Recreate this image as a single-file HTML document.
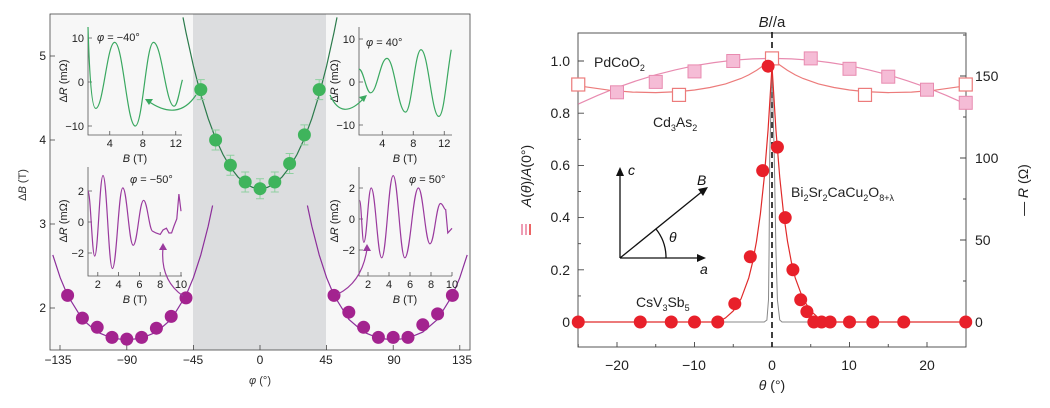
<!DOCTYPE html>
<html><head><meta charset="utf-8"><style>
html,body{margin:0;padding:0;background:#fff;}
svg{display:block;font-family:"Liberation Sans",sans-serif;}
</style></head><body>
<svg width="1050" height="408" viewBox="0 0 1050 408" xmlns="http://www.w3.org/2000/svg">
<rect x="50" y="14" width="420" height="336" fill="#f7f7f7"/>
<rect x="193" y="14" width="133" height="336" fill="#dcdddf"/>
<rect x="50" y="14" width="420" height="336" fill="none" stroke="#444" stroke-width="0.8"/>
<g stroke="#444" stroke-width="0.8">
<line x1="60" y1="350" x2="60" y2="345"/><line x1="126.8" y1="350" x2="126.8" y2="345"/><line x1="193.4" y1="350" x2="193.4" y2="345"/><line x1="260" y1="350" x2="260" y2="345"/><line x1="326.6" y1="350" x2="326.6" y2="345"/><line x1="393.2" y1="350" x2="393.2" y2="345"/><line x1="459.8" y1="350" x2="459.8" y2="345"/>
<line x1="50" y1="56" x2="55" y2="56"/><line x1="50" y1="140" x2="55" y2="140"/><line x1="50" y1="224" x2="55" y2="224"/><line x1="50" y1="308" x2="55" y2="308"/>
</g>
<g font-size="12" fill="#222" text-anchor="middle">
<text x="58" y="364">−135</text><text x="127" y="364">−90</text><text x="193" y="364">−45</text>
<text x="260" y="364">0</text><text x="326" y="364">45</text><text x="394" y="364">90</text><text x="462" y="364">135</text>
</g>
<g font-size="12" fill="#222" text-anchor="end">
<text x="46" y="60">5</text><text x="46" y="144">4</text><text x="46" y="228">3</text><text x="46" y="312">2</text>
</g>
<text x="260" y="384" font-size="11" text-anchor="middle" fill="#333"><tspan font-style="italic">φ</tspan> (°)</text>
<text transform="translate(26,185) rotate(-90)" font-size="11" text-anchor="middle" fill="#333">Δ<tspan font-style="italic">B</tspan> (T)</text>

<!-- green curve -->
<polyline fill="none" stroke="#2b7a4b" stroke-width="1.2" points="183,17.4 186,32.5 193.4,66 200.8,94.6 208.2,118.6 215.6,138.5 223,154.5 230.4,167.2 237.8,176.8 245.2,183.5 252.6,187.4 260,188.7 267.4,187.4 274.8,183.5 282.2,176.8 289.6,167.2 297,154.5 304.4,138.5 311.8,118.6 319.2,94.6 326.6,66 334,32.5 337,17.4"/>
<!-- purple curves -->
<polyline fill="none" stroke="#8c2e9a" stroke-width="1.2" points="52.8,254.9 60.2,277.7 67.6,295.4 82.4,319.3 97.2,332.1 112,338.2 126.8,339.9 141.6,338.2 156.4,332.1 171.2,319.3 186,295.4 193.4,277.7 200.8,254.9 208.2,226.1 212.6,205.5"/>
<polyline fill="none" stroke="#8c2e9a" stroke-width="1.2" points="307.4,205.5 311.8,226.1 319.2,254.9 326.6,277.7 334,295.4 348.8,319.3 363.6,332.1 378.4,338.2 393.2,339.9 408,338.2 422.8,332.1 437.6,319.3 452.4,295.4 459.8,277.7 467.2,254.9"/>

<!-- green points -->
<g stroke="#8fd0a0" stroke-width="1">
<path d="M200.8 79.6V99.6M215.6 130V150M230.4 155.2V175.2M245.2 172V192M260 178.7V198.7M274.8 172V192M289.6 153.5V173.5M304.4 124.9V144.9M319.2 79.6V99.6"/>
<path d="M196.8 79.6h8M196.8 99.6h8M211.6 130h8M211.6 150h8M226.4 155.2h8M226.4 175.2h8M241.2 172h8M241.2 192h8M256 178.7h8M256 198.7h8M270.8 172h8M270.8 192h8M285.6 153.5h8M285.6 173.5h8M300.4 124.9h8M300.4 144.9h8M315.2 79.6h8M315.2 99.6h8"/>
</g>
<g fill="#3fb45c">
<circle cx="200.8" cy="89.6" r="6.5"/><circle cx="215.6" cy="140" r="6.5"/><circle cx="230.4" cy="165.2" r="6.5"/><circle cx="245.2" cy="182" r="6.5"/><circle cx="260" cy="188.7" r="6.5"/><circle cx="274.8" cy="182" r="6.5"/><circle cx="289.6" cy="163.5" r="6.5"/><circle cx="304.4" cy="134.9" r="6.5"/><circle cx="319.2" cy="89.6" r="6.5"/>
</g>
<!-- purple points -->
<g fill="#a3238f">
<circle cx="67.6" cy="295.4" r="6.5"/><circle cx="82.4" cy="318.1" r="6.5"/><circle cx="97.2" cy="327.3" r="6.5"/><circle cx="112" cy="337.4" r="6.5"/><circle cx="126.8" cy="339.1" r="6.5"/><circle cx="141.6" cy="337.4" r="6.5"/><circle cx="156.4" cy="328.2" r="6.5"/><circle cx="171.2" cy="316.4" r="6.5"/><circle cx="186" cy="297.9" r="6.5"/>
<circle cx="334" cy="295.4" r="6.5"/><circle cx="348.8" cy="312.2" r="6.5"/><circle cx="363.6" cy="327.3" r="6.5"/><circle cx="378.4" cy="337.4" r="6.5"/><circle cx="393.2" cy="337.4" r="6.5"/><circle cx="408" cy="337.4" r="6.5"/><circle cx="422.8" cy="324.8" r="6.5"/><circle cx="437.6" cy="313.9" r="6.5"/><circle cx="452.4" cy="295.4" r="6.5"/>
</g>

<!-- insets axes -->
<g stroke="#555" stroke-width="0.8" fill="none">
<path d="M88 27V135H182"/><path d="M359 27V135H452"/><path d="M88 167V276H182"/><path d="M359 167V276H452"/>
<path d="M109.75 135v-4M142.75 135v-4M175.75 135v-4M88 38h4M88 82h4M88 126h4"/>
<path d="M382.25 135v-4M413.25 135v-4M444.25 135v-4M359 39h4M359 82h4M359 125h4"/>
<path d="M97.8 276v-4M118.6 276v-4M139.4 276v-4M160.2 276v-4M181 276v-4M88 191h4M88 222h4M88 253h4"/>
<path d="M368 276v-4M389 276v-4M410 276v-4M431 276v-4M452 276v-4M359 188h4M359 219h4M359 250h4"/>
</g>
<g font-size="11" fill="#222" text-anchor="middle">
<text x="109.75" y="147">4</text><text x="142.75" y="147">8</text><text x="175.75" y="147">12</text>
<text x="382.25" y="147">4</text><text x="413.25" y="147">8</text><text x="444.25" y="147">12</text>
<text x="97.8" y="288">2</text><text x="118.6" y="288">4</text><text x="139.4" y="288">6</text><text x="160.2" y="288">8</text><text x="181" y="288">10</text>
<text x="368" y="288">2</text><text x="389" y="288">4</text><text x="410" y="288">6</text><text x="431" y="288">8</text><text x="452" y="288">10</text>
<text x="135" y="162"><tspan font-style="italic">B</tspan> (T)</text><text x="405" y="162"><tspan font-style="italic">B</tspan> (T)</text>
<text x="135" y="303"><tspan font-style="italic">B</tspan> (T)</text><text x="405" y="303"><tspan font-style="italic">B</tspan> (T)</text>
<text transform="translate(67,81) rotate(-90)">Δ<tspan font-style="italic">R</tspan> (mΩ)</text>
<text transform="translate(338,81) rotate(-90)">Δ<tspan font-style="italic">R</tspan> (mΩ)</text>
<text transform="translate(67,221) rotate(-90)">Δ<tspan font-style="italic">R</tspan> (mΩ)</text>
<text transform="translate(338,221) rotate(-90)">Δ<tspan font-style="italic">R</tspan> (mΩ)</text>
</g>
<g font-size="11" fill="#222" text-anchor="end">
<text x="84" y="42">10</text><text x="84" y="86">0</text><text x="84" y="130">−10</text>
<text x="355" y="43">10</text><text x="355" y="86">0</text><text x="355" y="129">−10</text>
<text x="84" y="195">2</text><text x="84" y="226">0</text><text x="84" y="257">−2</text>
<text x="355" y="192">2</text><text x="355" y="223">0</text><text x="355" y="254">−2</text>
</g>
<g font-size="11" fill="#222">
<text x="97" y="41"><tspan font-style="italic">φ</tspan> = −40°</text>
<text x="366" y="46"><tspan font-style="italic">φ</tspan> = 40°</text>
<text x="130" y="183"><tspan font-style="italic">φ</tspan> = −50°</text>
<text x="409" y="183"><tspan font-style="italic">φ</tspan> = 50°</text>
</g>
<!-- inset curves -->
<g fill="none" stroke-width="1.2">
<path stroke="#3aa860" d="M88 27 C89 60 91 108.4 95.7 108.4 C103.3 108.4 107.1 42.4 114.7 42.4 C122.9 42.4 127.1 126 135.3 126 C142.6 126 146.2 42.4 153.5 42.4 C161.7 42.4 165.9 106.2 174.1 106.2 C177.5 106.2 179.5 90 182.4 79.8"/>
<path stroke="#3aa860" d="M359 69.1 C363.6 69.1 366 92.8 370.6 92.8 C377.1 92.8 380.4 58.4 386.9 58.4 C394.3 58.4 398.1 112.1 405.5 112.1 C411.7 112.1 414.8 49.75 421 49.75 C428.1 49.75 431.7 116.4 438.8 116.4 C443.8 116.4 446.2 80 451.2 49.75"/>
<path stroke="#9a3a9e" d="M87.9 191 C90.6 191 92 256.1 94.7 256.1 C98 256.1 99.7 175.5 103 175.5 C106.8 175.5 108.6 268.5 112.4 268.5 C116.6 268.5 118.6 187.9 122.8 187.9 C127 187.9 129 245.3 133.2 245.3 C137.4 245.3 139.4 200.3 143.6 200.3 C147.3 200.3 149.2 231.3 152.9 231.3 L156 233 160.2 234.4 L163 230 166.4 228.2 L169 233 171.6 232.9 L174 226 176.8 218.9 L178.9 194.1 L181 211.2"/>
<path stroke="#9a3a9e" d="M359.6 200.4 C361.3 200.4 362.1 242.3 363.8 242.3 C366.8 242.3 368.2 188 371.2 188 C375.4 188 377.5 257.8 381.7 257.8 C386.3 257.8 388.6 175.6 393.2 175.6 C397.8 175.6 400.2 257.8 404.8 257.8 C410.2 257.8 413 188 418.4 188 C423 188 425.4 243.8 430 243.8 C434.2 243.8 436.3 203.5 440.5 203.5 C443 203.5 444 209.7 445.7 209.7 L447.8 233 L452 228.3"/>
</g>
<!-- arrows -->
<g fill="none" stroke-width="1.2">
<path stroke="#3aa860" d="M196 95 Q178 122 148 101"/>
<path stroke="#3aa860" d="M330 95 Q342 122 364 98"/>
<path stroke="#9a3a9e" d="M183 296 Q160 280 163 248"/>
<path stroke="#9a3a9e" d="M338 294 Q362 282 367 249"/>
</g>
<g>
<polygon fill="#3aa860" points="145,99 153,99 149,105"/>
<polygon fill="#3aa860" points="367,95 359,97 364,102"/>
<polygon fill="#9a3a9e" points="163,243 159,250 167,250"/>
<polygon fill="#9a3a9e" points="367,244 363,251 371,251"/>
</g>

<!-- right panel -->
<rect x="578" y="33" width="388" height="314" fill="none" stroke="#444" stroke-width="0.9"/>
<g stroke="#444" stroke-width="0.9">
<path d="M617 347v-5M694.5 347v-5M772 347v-5M849.5 347v-5M927 347v-5M578.25 347v-3M655.75 347v-3M733.25 347v-3M810.75 347v-3M888.25 347v-3"/>
<path d="M578 322h6M578 295.9h3M578 269.8h6M578 243.7h3M578 217.6h6M578 191.5h3M578 165.4h6M578 139.3h3M578 113.2h6M578 87.1h3M578 61h6"/>
<path d="M966 322h-6M966 281h-3M966 240h-6M966 199h-3M966 158h-6M966 117h-3M966 76h-6M966 35h-3"/>
</g>
<line x1="772" y1="32" x2="772" y2="347" stroke="#111" stroke-width="1.6" stroke-dasharray="6,4"/>
<g font-size="14" fill="#222" text-anchor="middle">
<text x="617" y="370">−20</text><text x="694" y="370">−10</text><text x="772" y="370">0</text><text x="849" y="370">10</text><text x="927" y="370">20</text>
</g>
<g font-size="14" fill="#222" text-anchor="end">
<text x="570" y="327">0</text><text x="570" y="275">0.2</text><text x="570" y="222">0.4</text><text x="570" y="170">0.6</text><text x="570" y="118">0.8</text><text x="570" y="66">1.0</text>
</g>
<g font-size="14" fill="#222">
<text x="975" y="327">0</text><text x="975" y="245">50</text><text x="975" y="163">100</text><text x="975" y="81">150</text>
</g>
<text x="772" y="390" font-size="14" text-anchor="middle" fill="#222"><tspan font-style="italic">θ</tspan> (°)</text>
<text x="772" y="27" font-size="15" text-anchor="middle" fill="#222"><tspan font-style="italic">B</tspan>//a</text>
<text transform="translate(531,176) rotate(-90)" font-size="14" text-anchor="middle" fill="#222"><tspan font-style="italic">A</tspan>(<tspan font-style="italic">θ</tspan>)/<tspan font-style="italic">A</tspan>(0°)</text>
<g stroke-width="1.5"><line x1="522" y1="224" x2="522" y2="235" stroke="#e87a9a"/><line x1="526" y1="224" x2="526" y2="235" stroke="#e87a9a"/><line x1="530" y1="224" x2="530" y2="235" stroke="#e53030"/></g>
<text transform="translate(1028,190) rotate(-90)" font-size="14" text-anchor="middle" fill="#222">— <tspan font-style="italic">R</tspan> (Ω)</text>
<g font-size="14" fill="#222">
<text x="594" y="67">PdCoO<tspan font-size="9" dy="4">2</tspan></text>
<text x="653" y="127">Cd<tspan font-size="9" dy="4">3</tspan><tspan dy="-4">As</tspan><tspan font-size="9" dy="4">2</tspan></text>
<text x="791" y="197">Bi<tspan font-size="9" dy="4">2</tspan><tspan dy="-4">Sr</tspan><tspan font-size="9" dy="4">2</tspan><tspan dy="-4">CaCu</tspan><tspan font-size="9" dy="4">2</tspan><tspan dy="-4">O</tspan><tspan font-size="9" dy="4">8+λ</tspan></text>
<text x="636" y="307">CsV<tspan font-size="9" dy="4">3</tspan><tspan dy="-4">Sb</tspan><tspan font-size="9" dy="4">5</tspan></text>
</g>
<g stroke="#111" stroke-width="1.3" fill="none">
<line x1="620" y1="258" x2="620" y2="172"/><line x1="620" y1="258" x2="701" y2="258"/><line x1="620" y1="258" x2="704" y2="190"/>
<path d="M666 258 A46 46 0 0 0 656 229"/>
</g>
<g fill="#111"><polygon points="620,167 616,176 624,176"/><polygon points="706,258 697,254 697,262"/><polygon points="708,187 698,189 703,196"/></g>
<g font-size="14" font-style="italic" fill="#111"><text x="628" y="175">c</text><text x="697" y="185">B</text><text x="669" y="242">θ</text><text x="700" y="274">a</text></g>

<!-- curves -->
<g fill="none" stroke-width="1.2">
<polyline stroke="#e88bb0" points="578.25,104.1 597.6,95.4 617,87.6 636.4,80.8 655.75,74.8 675.1,69.9 694.5,65.7 713.9,62.6 733.25,60.2 752.6,58.9 772,58.4 791.4,58.9 810.75,60.2 830.1,62.6 849.5,65.7 868.9,69.9 888.25,74.8 907.4,80.8 927,87.6 946.4,95.4 965.75,104.1"/>
<polyline stroke="#ec7b7b" points="578.25,85.8 609.25,90.2 632.5,92.1 655.75,92.6 679,91.6 694.5,90 710,87.5 725.5,83.9 741,78.5 748.75,74.9 756.5,70.4 764.25,65 772,58.4 779.75,65 787.5,70.4 795.25,74.9 803,78.5 818.5,83.9 834,87.5 849.5,90 865,91.6 888.25,92.6 911.5,92.1 934.75,90.2 965.75,85.8"/>
<polyline stroke="#888" stroke-width="1" points="578,322 764.25,322 766.9,320 768.5,299.7 769.1,248.9 769.7,158.1 772,66.2 774.3,158.1 775.9,248.9 777.4,299.7 779.75,320 782,322 966,322"/>
<polyline stroke="#e02a2a" points="578,322 717.75,322 725.5,317.9 733.25,311 741,298.9 748.75,277.9 752.6,262.2 756.5,241.3 760.4,213.8 764.25,177.4 768.1,129.5 772,66.2 775.9,129.5 779.75,177.4 783.6,213.8 787.5,241.3 791.4,262.2 795.25,277.9 803,298.9 810.75,311 818.5,317.9 826.25,322 966,322"/>
</g>
<!-- squares -->
<g fill="#f5bcd6" stroke="#e88bb0">
<rect x="610.5" y="85.8" width="13" height="13"/><rect x="649.25" y="75.4" width="13" height="13"/><rect x="688" y="64.9" width="13" height="13"/><rect x="726.75" y="54.5" width="13" height="13"/><rect x="804.25" y="51.9" width="13" height="13"/><rect x="843" y="62.3" width="13" height="13"/><rect x="881.75" y="70.2" width="13" height="13"/><rect x="920.5" y="83.2" width="13" height="13"/><rect x="959.25" y="96.3" width="13" height="13"/>
</g>
<g fill="#fff" stroke="#ec7b7b" stroke-width="1.2">
<rect x="571.75" y="78" width="13" height="13"/><rect x="672.5" y="88.4" width="13" height="13"/><rect x="765.5" y="51.9" width="13" height="13"/><rect x="858.5" y="88.4" width="13" height="13"/><rect x="959.25" y="78" width="13" height="13"/>
</g>
<g fill="#e8202a">
<circle cx="578.25" cy="322" r="6.5"/><circle cx="640.25" cy="322" r="6.5"/><circle cx="671.25" cy="322" r="6.5"/><circle cx="694.5" cy="322" r="6.5"/><circle cx="717.75" cy="322" r="6.5"/>
<circle cx="734.8" cy="303.7" r="6.5"/><circle cx="750.3" cy="256.75" r="6.5"/><circle cx="762.7" cy="170.6" r="6.5"/><circle cx="768.1" cy="66.2" r="6.5"/><circle cx="777.4" cy="147.1" r="6.5"/><circle cx="785.2" cy="217.6" r="6.5"/><circle cx="792.9" cy="269.8" r="6.5"/><circle cx="800.7" cy="299.8" r="6.5"/><circle cx="806.9" cy="311.6" r="6.5"/>
<circle cx="813.85" cy="322" r="6.5"/><circle cx="821.6" cy="322" r="6.5"/><circle cx="830.1" cy="322" r="6.5"/><circle cx="849.5" cy="322" r="6.5"/><circle cx="872.75" cy="322" r="6.5"/><circle cx="903.75" cy="322" r="6.5"/><circle cx="965.75" cy="322" r="6.5"/>
</g>
</svg>
</body></html>
